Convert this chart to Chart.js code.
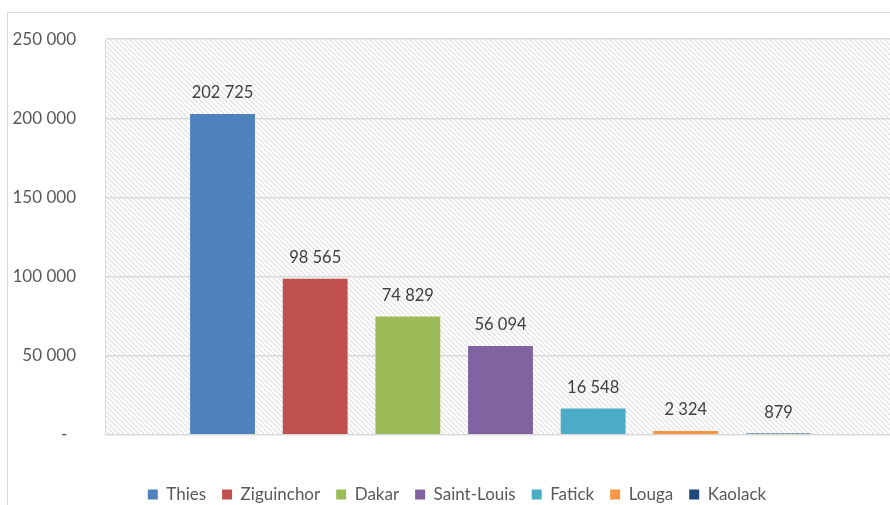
<!DOCTYPE html>
<html lang="fr">
<head>
<meta charset="UTF-8">
<title>Répartition par région</title>
<script src="https://cdn.jsdelivr.net/npm/chart.js"></script>
<style>
  html, body { margin: 0; padding: 0; background: #fff; }
  #wrap { width: 890px; height: 505px; }
</style>
</head>
<body>
<div id="wrap"><canvas id="graph" width="890" height="505"></canvas></div>
<script>
// régions et effectifs
const regions = ['Thies', 'Ziguinchor', 'Dakar', 'Saint-Louis', 'Fatick', 'Louga', 'Kaolack'];
const effectifs = [202725, 98565, 74829, 56094, 16548, 2324, 879];
const couleurs = ['#4F81BD', '#C0504D', '#9BBB59', '#8064A2', '#4BACC6', '#F79646', '#1F497D'];
const yTicks = [0, 50000, 100000, 150000, 200000, 250000];

const FONT = 'Lato, "Open Sans", sans-serif';

function formatNombre(v) {
  if (v === 0) return '-  ';
  return String(v).replace(/\B(?=(\d{3})+(?!\d))/g, ' ');
}

// motif hachuré du fond de la zone de tracé
function motifHachure(ctx) {
  const c = document.createElement('canvas');
  c.width = 5; c.height = 5;
  const g = c.getContext('2d');
  g.fillStyle = '#ffffff';
  g.fillRect(0, 0, 5, 5);
  g.strokeStyle = '#e0e0e0';
  g.lineWidth = 1.2;
  g.beginPath();
  g.moveTo(-1, -1); g.lineTo(6, 6);
  g.moveTo(-1, 4); g.lineTo(1, 6);
  g.moveTo(4, -1); g.lineTo(6, 1);
  g.stroke();
  return ctx.createPattern(c, 'repeat');
}

const fondPlugin = {
  id: 'fond',
  afterLayout(chart) {
    // l'axe des x déborde un peu à droite du cadre
    const x = chart.scales.x;
    x.right += 6;
    x.width += 6;
    x.configure();
    // légende centrée sous la zone de tracé
    chart.legend.left += 24;
  },
  beforeDraw(chart) {
    const { ctx, chartArea: a } = chart;
    ctx.save();
    // cadre extérieur
    ctx.strokeStyle = '#d9d9d9';
    ctx.lineWidth = 1;
    ctx.strokeRect(7.5, 12.5, 900, 520);
    ctx.fillStyle = motifHachure(ctx);
    ctx.fillRect(a.left, a.top, a.right - a.left, a.bottom - a.top);
    ctx.restore();
  }
};

// valeurs au-dessus des barres
const etiquettesPlugin = {
  id: 'etiquettes',
  afterDatasetsDraw(chart) {
    const ctx = chart.ctx;
    ctx.save();
    ctx.font = '16.5px ' + FONT;
    ctx.fillStyle = '#404040';
    ctx.textAlign = 'center';
    ctx.textBaseline = 'middle';
    chart.data.datasets.forEach((ds, i) => {
      const bar = chart.getDatasetMeta(i).data[0];
      ctx.fillText(formatNombre(ds.data[0]), bar.x, bar.y - 21);
    });
    ctx.restore();
  }
};

new Chart(document.getElementById('graph'), {
  type: 'bar',
  data: {
    labels: [''],
    datasets: regions.map((r, i) => ({
      label: r,
      data: [effectifs[i]],
      backgroundColor: couleurs[i],
      borderWidth: 0,
      categoryPercentage: 0.82,
      barPercentage: 0.70
    }))
  },
  options: {
    responsive: false,
    animation: false,
    layout: { padding: { top: 37, right: 0, bottom: -8, left: 0 } },
    scales: {
      x: { display: false },
      y: {
        min: 0,
        max: 250000,
        afterFit(s) { s.width = 105; },
        afterBuildTicks(s) { s.ticks = yTicks.map(v => ({ value: v })); },
        border: { display: true, color: '#d9d9d9', width: 1 },
        grid: { color: '#d9d9d9', lineWidth: 1.5, drawTicks: false },
        ticks: {
          padding: 29,
          color: '#595959',
          font: { family: FONT, size: 17 },
          callback: v => formatNombre(v)
        }
      }
    },
    plugins: {
      legend: {
        position: 'bottom',
        title: { display: true, text: ' ', font: { size: 1 }, padding: { top: 34, bottom: 0 } },
        labels: {
          boxWidth: 10,
          boxHeight: 10,
          padding: 16,
          color: '#595959',
          font: { family: FONT, size: 17 }
        }
      },
      tooltip: { enabled: false }
    }
  },
  plugins: [fondPlugin, etiquettesPlugin]
});
</script>
</body>
</html>
